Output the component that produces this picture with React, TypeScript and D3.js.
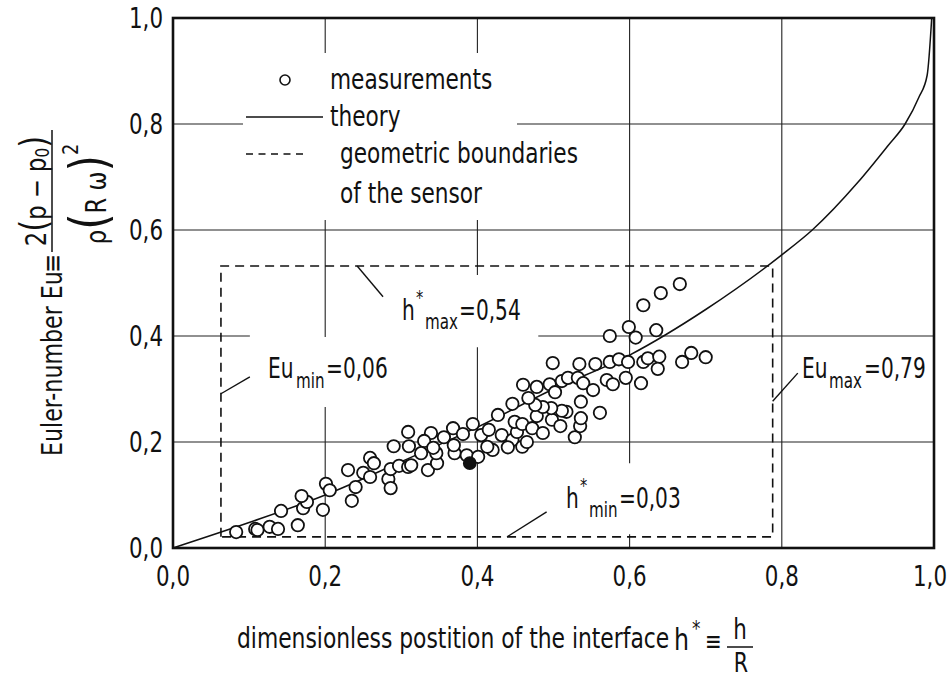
import React from "react";
import * as d3 from "d3";

// ---------- data ----------
const xTicks = [0, 0.2, 0.4, 0.6, 0.8, 1.0];
const yTicks = [0, 0.2, 0.4, 0.6, 0.8, 1.0];
const tickLabel = (v: number) => v.toFixed(1).replace(".", ",");

// theory curve (h*, Eu)
const theoryH = [0, 0.1, 0.2, 0.3, 0.4, 0.5, 0.6, 0.7, 0.8, 0.84, 0.9, 0.94, 0.962, 0.98, 0.991, 0.997];
const theoryEu = [0, 0.048, 0.1, 0.163, 0.228, 0.3, 0.364, 0.45, 0.553, 0.6, 0.69, 0.76, 0.8, 0.85, 0.892, 1.0];

// measurements (h*, Eu)
const measH = [
  0.083, 0.108, 0.111, 0.127, 0.138, 0.164, 0.142, 0.171, 0.176, 0.169, 0.197, 0.201, 0.206,
  0.235, 0.240, 0.230, 0.250, 0.259, 0.259, 0.264, 0.283, 0.286, 0.286, 0.290, 0.309, 0.310,
  0.297, 0.309, 0.313, 0.335, 0.339, 0.330, 0.356, 0.368, 0.381, 0.347, 0.370, 0.346,
  0.342, 0.326, 0.369, 0.394, 0.405, 0.415, 0.420, 0.386, 0.401, 0.413, 0.427, 0.432, 0.446,
  0.459, 0.452, 0.449, 0.459, 0.472, 0.478, 0.486, 0.498, 0.509, 0.528, 0.535, 0.536, 0.561,
  0.536, 0.517, 0.511, 0.497, 0.486, 0.476, 0.446, 0.467, 0.460, 0.478, 0.495, 0.502, 0.511,
  0.519, 0.532, 0.539, 0.552, 0.570, 0.578, 0.595, 0.615, 0.499, 0.534, 0.555, 0.574, 0.586,
  0.598, 0.618, 0.624, 0.639, 0.637, 0.669, 0.681, 0.700, 0.618, 0.599, 0.574, 0.608, 0.635,
  0.641, 0.666, 0.440, 0.465,
];
const measEu = [
  0.030, 0.036, 0.034, 0.040, 0.036, 0.043, 0.070, 0.075, 0.087, 0.098, 0.072, 0.121, 0.109,
  0.089, 0.115, 0.147, 0.142, 0.134, 0.170, 0.160, 0.130, 0.113, 0.149, 0.192, 0.219, 0.192,
  0.155, 0.153, 0.156, 0.147, 0.217, 0.202, 0.209, 0.226, 0.215, 0.160, 0.179, 0.179,
  0.189, 0.179, 0.194, 0.234, 0.213, 0.223, 0.185, 0.175, 0.172, 0.191, 0.251, 0.213, 0.204,
  0.191, 0.219, 0.238, 0.234, 0.226, 0.249, 0.217, 0.242, 0.230, 0.209, 0.230, 0.245, 0.255,
  0.276, 0.257, 0.259, 0.264, 0.266, 0.270, 0.272, 0.283, 0.308, 0.304, 0.309, 0.294, 0.315,
  0.321, 0.321, 0.311, 0.298, 0.317, 0.309, 0.321, 0.311, 0.349, 0.347, 0.347, 0.351, 0.356,
  0.351, 0.351, 0.358, 0.361, 0.338, 0.351, 0.368, 0.360, 0.458, 0.417, 0.400, 0.397, 0.411,
  0.481, 0.498, 0.190, 0.200,
];
// the one dark (filled) point
const filledH = [0.39];
const filledEu = [0.16];

// geometric boundaries of the sensor (rectangle corners in data units)
const boxH = [0.063, 0.788];
const boxEu = [0.021, 0.532];

const FONT = "'DejaVu Sans Condensed', 'DejaVu Sans', sans-serif";
const INK = "#111";

type TP = {
  x: number;
  y: number;
  size: number;
  sx?: number;
  anchor?: "start" | "middle" | "end";
  children: React.ReactNode;
};
function T({ x, y, size, sx = 0.86, anchor = "start", children }: TP) {
  return (
    <text transform={`translate(${x},${y}) scale(${sx},1)`} fontSize={size} textAnchor={anchor}>
      {children}
    </text>
  );
}

export default function App() {
  const W = 949, H = 680;
  const x = d3.scaleLinear().domain([0, 1]).range([173, 934]);
  const y = d3.scaleLinear().domain([0, 1]).range([548, 18]);

  const theory = theoryH.map((h, i) => [h, theoryEu[i]] as [number, number]);
  const line = d3
    .line<[number, number]>()
    .x((d) => x(d[0]))
    .y((d) => y(d[1]))
    .curve(d3.curveMonotoneX);

  // grid segments (data units): horizontal: [yValue, x0, x1]; vertical: [xValue, y0, y1]
  const hGrid: [number, number, number][] = [
    [0.2, 0, 1],
    [0.4, 0, 0.101],
    [0.4, 0.48, 1],
    [0.6, 0, 1],
    [0.8, 0, 0.092],
    [0.8, 0.452, 1],
  ];
  const vGrid: [number, number, number][] = [
    [0.2, 0.934, 1],
    [0.2, 0.398, 0.619],
    [0.2, 0, 0.266],
    [0.4, 0.934, 1],
    [0.4, 0.515, 0.619],
    [0.4, 0, 0.379],
    [0.6, 0.16, 1],
    [0.6, 0, 0.026],
    [0.8, 0, 1],
  ];

  const boxPath = `M${x(boxH[0])},${y(boxEu[0])}L${x(boxH[0])},${y(boxEu[1])}L${x(boxH[1])},${y(boxEu[1])}L${x(boxH[1])},${y(boxEu[0])}Z`;

  const leaders: [number, number, number, number][] = [
    [0.242, 0.532, 0.276, 0.474],
    [0.063, 0.291, 0.101, 0.323],
    [0.788, 0.277, 0.821, 0.33],
    [0.439, 0.021, 0.491, 0.068],
  ];

  return (
    <svg
      width={W}
      height={H}
      style={{ position: "absolute", left: 0, top: 0, background: "#fff" }}
      fontFamily={FONT}
      fill={INK}
    >
      <rect x={0} y={0} width={W} height={H} fill="#fff" />
      {/* grid */}
      <g stroke="#222" strokeWidth={1.1}>
        {hGrid.map(([v, a, b], i) => (
          <line key={"h" + i} x1={x(a)} x2={x(b)} y1={y(v)} y2={y(v)} />
        ))}
        {vGrid.map(([v, a, b], i) => (
          <line key={"v" + i} x1={x(v)} x2={x(v)} y1={y(a)} y2={y(b)} />
        ))}
      </g>

      {/* sensor boundary */}
      <path d={boxPath} fill="none" stroke={INK} strokeWidth={1.6} strokeDasharray="9,6" />
      {/* leaders */}
      <g stroke={INK} strokeWidth={1.4}>
        {leaders.map(([a, b, c, d], i) => (
          <line key={i} x1={x(a)} y1={y(b)} x2={x(c)} y2={y(d)} />
        ))}
      </g>

      {/* theory */}
      <path d={line(theory) || ""} fill="none" stroke={INK} strokeWidth={1.5} />

      {/* measurements */}
      <g fill="#fff" stroke={INK} strokeWidth={1.8}>
        {measH.map((h, i) => (
          <circle key={i} cx={x(h)} cy={y(measEu[i])} r={6.2} />
        ))}
      </g>
      <g fill={INK} stroke={INK} strokeWidth={1.8}>
        {filledH.map((h, i) => (
          <circle key={i} cx={x(h)} cy={y(filledEu[i])} r={6} />
        ))}
      </g>

      {/* frame */}
      <rect x={x(0)} y={y(1)} width={x(1) - x(0)} height={y(0) - y(1)} fill="none" stroke={INK} strokeWidth={2.6} />

      {/* tick labels */}
      {yTicks.map((v) => (
        <T key={"y" + v} x={163} y={y(v) + 10} size={28} sx={0.85} anchor="end">
          {tickLabel(v)}
        </T>
      ))}
      {xTicks.map((v, i) => (
        <T
          key={"x" + v}
          x={i === xTicks.length - 1 ? 947 : x(v)}
          y={586}
          size={28}
          sx={0.85}
          anchor={i === xTicks.length - 1 ? "end" : "middle"}
        >
          {tickLabel(v)}
        </T>
      ))}

      {/* legend */}
      <circle cx={285} cy={80} r={5} fill="#fff" stroke={INK} strokeWidth={1.6} />
      <line x1={246} x2={323} y1={117} y2={117} stroke={INK} strokeWidth={1.4} />
      <line x1={246} x2={307} y1={154} y2={154} stroke={INK} strokeWidth={1.4} strokeDasharray="7,5.5" />
      <T x={330} y={89} size={28}>measurements</T>
      <T x={330} y={126} size={28}>theory</T>
      <T x={340} y={163} size={28}>geometric boundaries</T>
      <T x={340} y={203} size={28}>of the sensor</T>

      {/* annotations */}
      <T x={402} y={320} size={28} sx={0.8}>h</T>
      <T x={416} y={304} size={20} sx={0.8}>*</T>
      <T x={425} y={329} size={21} sx={0.8}>max</T>
      <T x={459} y={320} size={28} sx={0.8}>=0,54</T>

      <T x={268} y={378} size={28} sx={0.8}>Eu</T>
      <T x={296} y={388} size={21} sx={0.8}>min</T>
      <T x={326} y={378} size={28} sx={0.8}>=0,06</T>

      <T x={802} y={378} size={28} sx={0.8}>Eu</T>
      <T x={829} y={388} size={21} sx={0.8}>max</T>
      <T x={864} y={378} size={28} sx={0.8}>=0,79</T>

      <T x={566} y={508} size={28} sx={0.8}>h</T>
      <T x={580} y={492} size={20} sx={0.8}>*</T>
      <T x={589} y={517} size={21} sx={0.8}>min</T>
      <T x={619} y={508} size={28} sx={0.8}>=0,03</T>

      {/* x axis title */}
      <T x={237} y={648} size={28} sx={0.867}>dimensionless postition of the interface</T>
      <T x={674} y={650} size={31} sx={0.85}>h</T>
      <T x={692} y={636} size={22} sx={0.85}>*</T>
      <T x={705} y={650} size={26} sx={0.85}>≡</T>
      <T x={740} y={639} size={28} sx={0.85} anchor="middle">h</T>
      <line x1={727} x2={753} y1={647} y2={647} stroke={INK} strokeWidth={1.5} />
      <T x={741} y={672} size={27} sx={0.85} anchor="middle">R</T>

      {/* y axis title */}
      <g transform="translate(62,456) rotate(-90)">
        <T x={0} y={0} size={28} sx={0.88}>Euler-number Eu</T>
        <T x={183} y={0} size={28} sx={0.9}>≡</T>
        <line x1={204} x2={326} y1={-10} y2={-10} stroke={INK} strokeWidth={1.5} />
        <T x={265} y={-16} size={28} sx={0.9} anchor="middle">
          2<tspan fontSize={38}>(</tspan>p − p<tspan fontSize={19} dy={3}>0</tspan>
          <tspan fontSize={38} dy={-3}>)</tspan>
        </T>
        <T x={262} y={44} size={28} sx={0.9} anchor="middle">
          ρ<tspan fontSize={52}>(</tspan>R ω<tspan fontSize={52}>)</tspan>
          <tspan fontSize={22} dy={-28}>2</tspan>
        </T>
      </g>
    </svg>
  );
}
